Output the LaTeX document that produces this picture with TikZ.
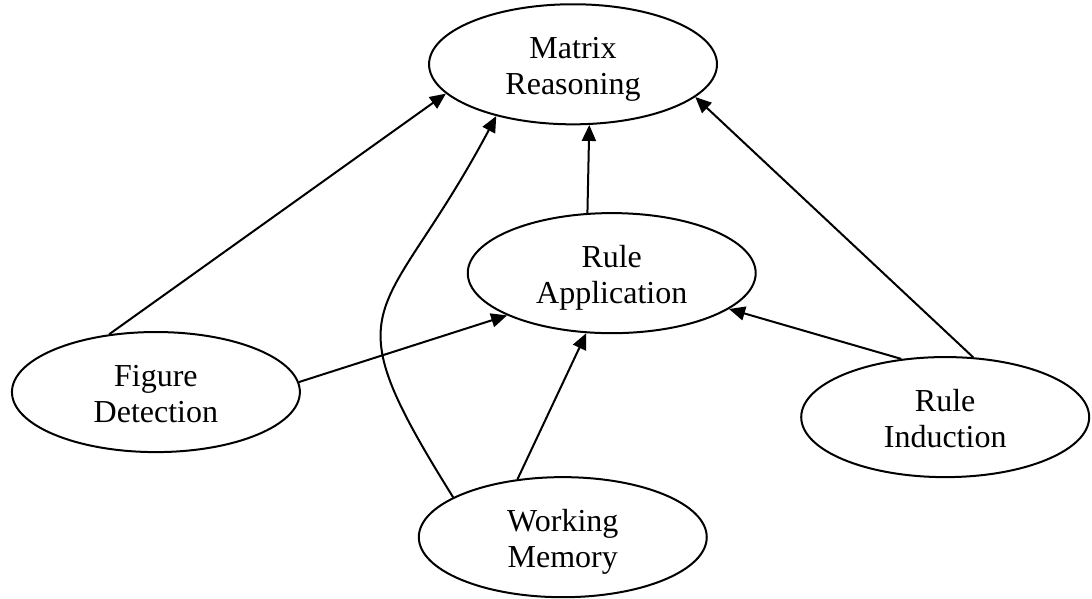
\documentclass[tikz,border=0pt]{standalone}
\usepackage{fontspec}
\setmainfont{Liberation Serif}
\usepackage{tikz}
\usetikzlibrary{shapes.geometric,arrows.meta}

\begin{document}
\begin{tikzpicture}[
    ability/.style={draw, line width=1pt, ellipse, minimum width=5.06cm, minimum height=2.11cm,
        inner sep=0pt, align=center, font=\fontsize{16}{18}\selectfont,
        text height=30.5pt, text depth=0pt},
    link/.style={line width=1pt, -{Triangle[length=8pt,width=7pt]}}
]
	\useasboundingbox (0,0) rectangle (19.19,10.51);
	
	% Abilities
	\node[ability] (mr) at (10.07,9.38) {Matrix\\Reasoning};
	\node[ability] (ra) at (10.75,5.71) {Rule\\Application};
	\node[ability] (fd) at (2.74,3.62) {Figure\\Detection};
	\node[ability] (ri) at (16.61,3.18) {Rule\\Induction};
	\node[ability] (wm) at (9.89,1.07) {Working\\Memory};
	
	% Arrows into Matrix Reasoning
	\draw[link] (fd.129) -- (mr.193);
	\draw[link] (wm.160) to[out=122,in=242,looseness=1.6] (mr.214);
	\draw[link] (ra.112) -- (mr.285);
	\draw[link] (ri.65) -- (mr.345);
	
	% Arrows into Rule Application
	\draw[link] (fd.4) -- (ra.202);
	\draw[link] (wm.128) -- (ra.247);
	\draw[link] (ri.127) -- (ra.343);
\end{tikzpicture}
\end{document}
